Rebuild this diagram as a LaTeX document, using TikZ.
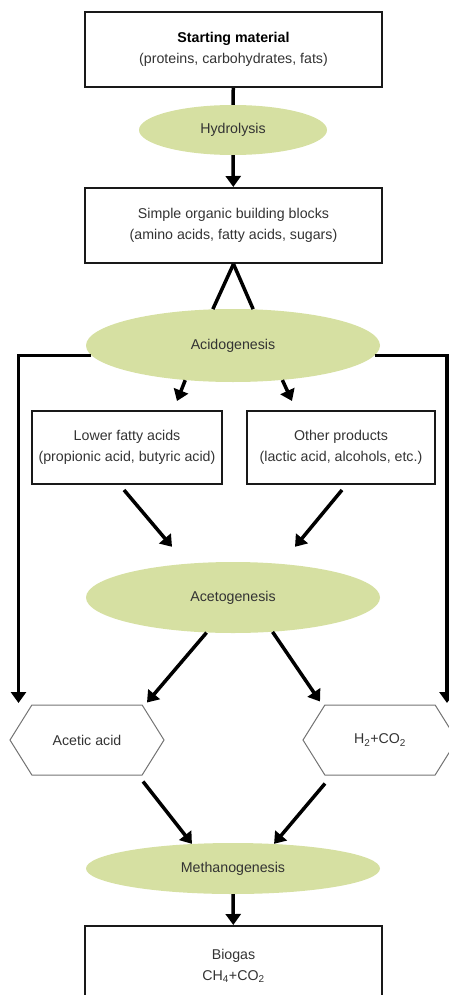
\documentclass[tikz,border=0pt]{standalone}
\usepackage{fontspec}
\setmainfont{Liberation Sans}
\usetikzlibrary{positioning,arrows.meta,shapes.geometric,shapes.symbols}
\definecolor{phasegreen}{HTML}{D6E0A2}
\definecolor{textgrey}{HTML}{333333}
\tikzset{
  stagebox/.style = {shape=rectangle, draw=black!90, line width=2pt,
                     align=center, text=textgrey,
                     minimum width=297pt, minimum height=75pt},
  phase/.style    = {shape=ellipse, fill=phasegreen, text=textgrey,
                     inner sep=0pt},
  product/.style  = {shape=signal, signal to=west and east,
                     signal pointer angle=116, draw=black!55, line width=1pt,
                     text=textgrey, inner sep=0pt,
                     minimum width=154pt, minimum height=70pt},
  link/.style     = {draw, line width=3.5pt},
  flow/.style     = {link, -{Triangle[width=15pt,length=11pt]}},
}

\begin{document}
\begin{tikzpicture}[
        x                 = 1pt,
        y                 = -1pt,
        every node/.style = {font=\fontsize{14.2}{20.5}\selectfont}
    ]
    \useasboundingbox (0,0) rectangle (449,995);
    \clip (0,0) rectangle (449,995);

    \node [stagebox] (start) at (233.5,49.5)
        {{\color{black}\textbf{Starting material}}\\(proteins, carbohydrates, fats)};
    \node [phase, minimum width=188pt, minimum height=50pt] (hydro) at (233,130) {Hydrolysis};
    \node [stagebox] (blocks) at (233.5,225.5)
        {Simple organic building blocks\\(amino acids, fatty acids, sugars)};
    \node [phase, minimum width=294pt, minimum height=73pt] (acido) at (233,345.5) {Acidogenesis};
    \node [stagebox, minimum width=190pt, minimum height=73pt] (lower) at (127,447.5)
        {Lower fatty acids\\(propionic acid, butyric acid)};
    \node [stagebox, minimum width=188pt, minimum height=73pt] (other) at (341,447.5)
        {Other products\\(lactic acid, alcohols, etc.)};
    \node [phase, minimum width=294pt, minimum height=71pt] (aceto) at (233,597.5) {Acetogenesis};
    \node [product] (acetic) at (87,740) {Acetic acid};
    \node [product] (gases) at (380,740) {H\textsubscript{2}+CO\textsubscript{2}};
    \node [phase, minimum width=294pt, minimum height=51pt] (methano) at (233,868.5) {Methanogenesis};
    \node [stagebox, minimum height=80pt] (biogas) at (233.5,966)
        {Biogas\\CH\textsubscript{4}+CO\textsubscript{2}};

    \coordinate (leftdrop)  at (18.5,703);
    \coordinate (rightdrop) at (447,703);

    \draw [link] (start) -- (hydro);
    \draw [flow] (hydro) -- (blocks);
    \draw [link] (blocks.south) -- (acido.119);
    \draw [link] (blocks.south) -- (acido.61);
    \draw [flow] (acido.184) -| (leftdrop);
    \draw [flow] (acido.-4) -| (rightdrop);
    \draw [flow] (acido.-144) -- ([xshift=50pt,yshift=9pt]lower.north);
    \draw [flow] (acido.-35) -- ([xshift=-49pt,yshift=9pt]other.north);
    \draw [flow] ([xshift=-3pt,yshift=-5pt]lower.south) -- ([xshift=-61pt,yshift=15pt]aceto.north);
    \draw [flow] ([xshift=1pt,yshift=-5pt]other.south) -- ([xshift=62pt,yshift=15pt]aceto.north);
    \draw [flow] (aceto.-127) -- ([xshift=60pt,yshift=2pt]acetic.north);
    \draw [flow] (aceto.-41) -- ([xshift=-60pt,yshift=3pt]gases.north);
    \draw [flow] ([xshift=56pt,yshift=-6pt]acetic.south) -- (methano.149);
    \draw [flow] ([xshift=-55pt,yshift=-8pt]gases.south) -- (methano.31);
    \draw [flow] (methano) -- (biogas);
\end{tikzpicture}
\end{document}
